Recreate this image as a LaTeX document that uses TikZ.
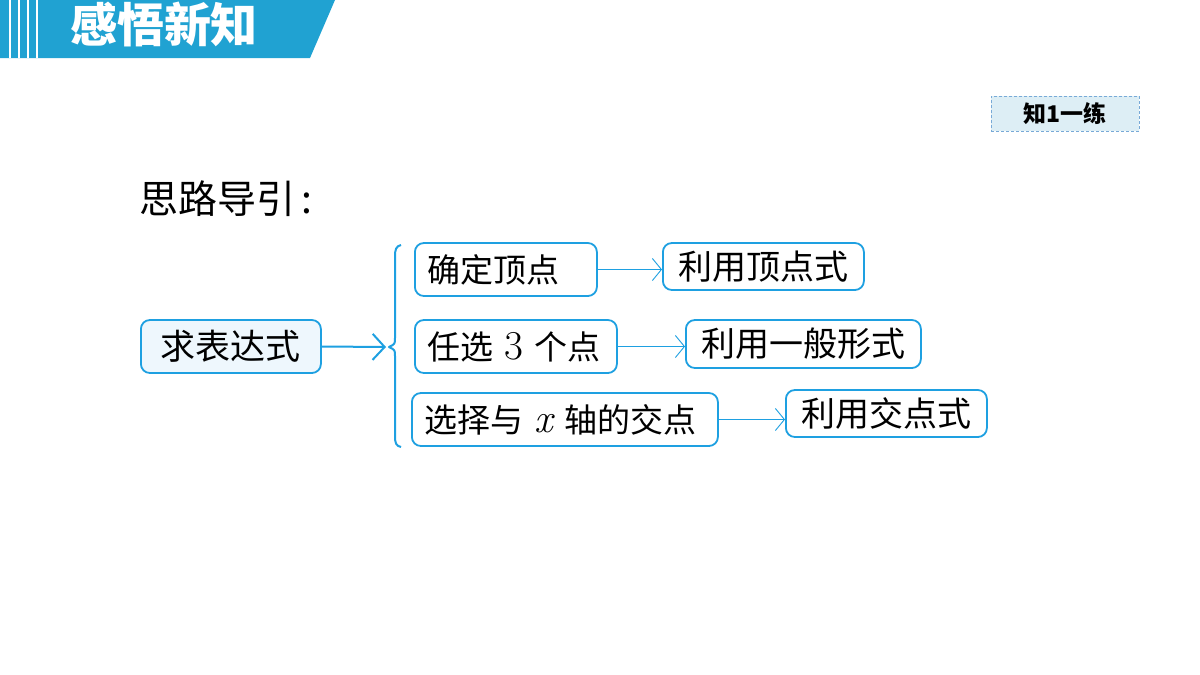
\documentclass[tikz,border=0pt]{standalone}
\usepackage{fontspec}
\newfontfamily\cjk{Noto Sans CJK SC}
\usetikzlibrary{arrows.meta}
\definecolor{bblue}{RGB}{30,160,225}
\definecolor{hblue}{RGB}{32,162,210}
\definecolor{lfill}{RGB}{238,247,253}
\definecolor{badgefill}{RGB}{221,238,245}
\definecolor{badgeline}{RGB}{120,170,215}
\newcommand{\latinbig}[1]{{\rmfamily\fontsize{41}{44}\selectfont #1}}
\begin{document}
\begin{tikzpicture}[x=1pt,y=-1pt,
  boxb/.style={draw=bblue,line width=1.8pt,rounded corners=9pt,fill=white,anchor=west,
    align=left,inner xsep=13pt,inner ysep=0pt,minimum height=53pt,
    font=\cjk\fontsize{33}{36}\selectfont},
  boxc/.style={draw=bblue,line width=1.8pt,rounded corners=9pt,fill=white,anchor=west,
    align=center,inner xsep=10pt,inner ysep=0pt,minimum height=47pt,
    font=\cjk\fontsize{34}{36}\selectfont},
  thinarrow/.style={draw=bblue,line width=0.9pt,-{Straight Barb[length=9pt,width=22pt,line width=0.9pt]}},
  thickarrow/.style={draw=bblue,line width=2pt,-{Straight Barb[length=12pt,width=26pt,line width=2pt]}}
]
\useasboundingbox (0,0) rectangle (1200,675);
\fill[white] (0,0) rectangle (1200,675);
% header band
\fill[hblue] (0,0) -- (335,0) -- (310,58) -- (0,58) -- cycle;
\foreach \xx in {10,19,28,37} \fill[white] (\xx-1.2,0) rectangle (\xx+1.2,58);
\node[text=white,font=\cjk\bfseries\fontsize{47}{50}\selectfont] (title) at (164,24) {感悟新知};
% badge
\node[draw=badgeline,fill=badgefill,line width=0.8pt,dash pattern=on 3pt off 2pt,
  minimum width=148pt,minimum height=35pt,inner sep=0pt,
  font=\cjk\bfseries\fontsize{23}{26}\selectfont] (badge) at (1065,113.5) {知1一练};
% heading
\node[anchor=west,inner sep=0pt,font=\cjk\fontsize{39}{42}\selectfont] (head) at (139,199) {思路导引\,:};
% main node
\node[boxb,fill=lfill,align=center,text width=154pt,font=\cjk\fontsize{35}{38}\selectfont] (a) at (140,346.5) {求表达式};
% left boxes
\node[boxb,text width=156pt] (b1) at (414,269.5) {确定顶点};
\node[boxb,text width=176pt] (b2) at (414,346.5) {任选 \latinbig{3} 个点};
\node[boxb,text width=280pt] (b3) at (411,419.5) {选择与 \latinbig{\itshape x} 轴的交点};
% right boxes
\node[boxc,text width=181pt] (c1) at (662,266.5) {利用顶点式};
\node[boxc,text width=215pt,minimum height=48pt] (c2) at (685,344) {利用一般形式};
\node[boxc,text width=181pt] (c3) at (785,413.5) {利用交点式};
% brace
\coordinate (tip) at (386,347);
\coordinate (bracetip) at (389,347);
\draw[bblue,line width=2pt,line join=round]
  (401,245) .. controls (396,246) and (395,250) .. (395,256) -- (395,338)
  .. controls (395,344) .. (bracetip) .. controls (395,350) .. (395,356) -- (395,436)
  .. controls (395,443) and (396,446) .. (401,447);
% arrows
\draw[thickarrow] (a.east) -- (tip);
\draw[thinarrow] (b1.east) -- (c1.west |- b1.east);
\draw[thinarrow] (b2.east) -- (c2.west |- b2.east);
\draw[thinarrow] (b3.east) -- (c3.west |- b3.east);
\end{tikzpicture}
\end{document}
